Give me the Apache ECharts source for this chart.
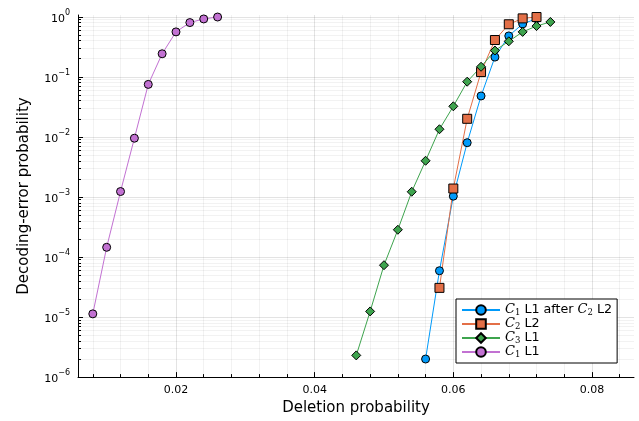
<!DOCTYPE html>
<html>
<head>
<meta charset="utf-8">
<script src="https://cdn.jsdelivr.net/npm/echarts@6/dist/echarts.min.js"></script>
<style>
  html, body { margin: 0; padding: 0; background: #ffffff; }
  #chart { width: 639px; height: 421px; }
</style>
</head>
<body>
<div id="chart"></div>
<script>
// Deletion probabilities and decoding-error probabilities per scheme
const delC1afterC2 = [0.056, 0.058, 0.060, 0.062, 0.064, 0.066, 0.068, 0.070, 0.072];
const errC1afterC2 = [2.0e-6, 5.9e-5, 1.03e-3, 8.0e-3, 0.048, 0.213, 0.48, 0.76, 0.93];

const delC2L2 = [0.058, 0.060, 0.062, 0.064, 0.066, 0.068, 0.070, 0.072];
const errC2L2 = [3.06e-5, 1.38e-3, 0.020, 0.120, 0.41, 0.75, 0.94, 0.99];

const delC3L1 = [0.046, 0.048, 0.050, 0.052, 0.054, 0.056, 0.058, 0.060, 0.062, 0.064, 0.066, 0.068, 0.070, 0.072, 0.074];
const errC3L1 = [2.3e-6, 1.24e-5, 7.3e-5, 2.84e-4, 1.22e-3, 4.0e-3, 0.0134, 0.0323, 0.083, 0.147, 0.274, 0.39, 0.56, 0.70, 0.82];

const delC1L1 = [0.008, 0.010, 0.012, 0.014, 0.016, 0.018, 0.020, 0.022, 0.024, 0.026];
const errC1L1 = [1.13e-5, 1.45e-4, 1.23e-3, 9.5e-3, 0.0748, 0.242, 0.56, 0.80, 0.92, 0.99];

// Axis ticks
const xMajorTicks = [0.02, 0.04, 0.06, 0.08];
const xMinorTicks = [0.008, 0.012, 0.016, 0.024, 0.028, 0.032, 0.036, 0.044, 0.048, 0.052, 0.056, 0.064, 0.068, 0.072, 0.076, 0.084];
const yDecades = [-6, -5, -4, -3, -2, -1, 0];
const yMinorMultipliers = [2, 3, 4, 5, 6, 7, 8, 9];

const seriesNames = ['C1 L1 after C2 L2', 'C2 L2', 'C3 L1', 'C1 L1'];
const legendRich = {
  'C1 L1 after C2 L2': '{c|C}{s|1} L1 after {c|C}{s|2} L2',
  'C2 L2': '{c|C}{s|2} L2',
  'C3 L1': '{c|C}{s|3} L1',
  'C1 L1': '{c|C}{s|1} L1'
};

const yMajorTicks = yDecades.map(e => Math.pow(10, e));
const yMinorTicks = [];
yDecades.slice(0, -1).forEach(e => yMinorMultipliers.forEach(k => yMinorTicks.push(k * Math.pow(10, e))));

const FONT = 'DejaVu Sans';
const X_MIN = 0.005865, X_MAX = 0.08606;
const Y_MIN = 1e-6, Y_MAX = 1.07;

function pairs(xs, ys) { return xs.map((x, i) => [x, ys[i]]); }

function expLabel(v) {
  const e = Math.round(Math.log10(v));
  return '{b|10}{p|' + (e < 0 ? '\u2212' + Math.abs(e) : String(e)) + '}';
}

const chart = echarts.init(document.getElementById('chart'), null, { renderer: 'canvas' });

const baseSeries = (name, xs, ys, color, symbol, size) => ({
  name: name,
  type: 'line',
  xAxisIndex: 0,
  yAxisIndex: 0,
  data: pairs(xs, ys),
  symbol: symbol,
  symbolSize: size,
  showAllSymbol: true,
  lineStyle: { color: color, width: 1 },
  itemStyle: { color: color, borderColor: '#000000', borderWidth: 1 },
  emphasis: { disabled: true },
  animation: false
});

chart.setOption({
  backgroundColor: '#ffffff',
  animation: false,
  grid: { left: 78, right: 5, top: 15, bottom: 42, containLabel: false },
  xAxis: [
    {
      type: 'value', min: X_MIN, max: X_MAX, position: 'bottom',
      name: 'Deletion probability', nameLocation: 'middle', nameGap: 22,
      nameTextStyle: { fontFamily: FONT, fontSize: 15, color: '#000' },
      axisLine: { show: true, onZero: false, lineStyle: { color: '#000', width: 1 } },
      axisTick: { show: true, inside: true, length: 5, customValues: xMajorTicks, lineStyle: { color: '#000' } },
      axisLabel: { show: true, customValues: xMajorTicks, margin: 8, fontFamily: FONT, fontSize: 11, color: '#000',
                   formatter: v => v.toFixed(2) },
      splitLine: { show: true, lineStyle: { color: 'rgba(0,0,0,0.11)', width: 1 } }
    },
    {
      type: 'value', min: X_MIN, max: X_MAX, position: 'bottom',
      axisLine: { show: false },
      axisTick: { show: true, inside: true, length: 3, customValues: xMinorTicks, lineStyle: { color: '#000' } },
      axisLabel: { show: false },
      splitLine: { show: true, lineStyle: { color: 'rgba(0,0,0,0.05)', width: 1 } }
    }
  ],
  yAxis: [
    {
      type: 'log', logBase: 10, min: Y_MIN, max: Y_MAX, position: 'left',
      name: 'Decoding-error probability', nameLocation: 'middle', nameGap: 46,
      nameTextStyle: { fontFamily: FONT, fontSize: 15, color: '#000' },
      axisLine: { show: true, onZero: false, lineStyle: { color: '#000', width: 1 } },
      axisTick: { show: true, inside: true, length: 5, customValues: yMajorTicks, lineStyle: { color: '#000' } },
      axisLabel: {
        show: true, customValues: yMajorTicks, margin: 8, color: '#000',
        formatter: expLabel,
        rich: {
          b: { fontFamily: FONT, fontSize: 11, color: '#000', verticalAlign: 'bottom', lineHeight: 16 },
          p: { fontFamily: FONT, fontSize: 8, color: '#000', verticalAlign: 'top', lineHeight: 16 }
        }
      },
      splitLine: { show: true, lineStyle: { color: 'rgba(0,0,0,0.11)', width: 1 } }
    },
    {
      type: 'log', logBase: 10, min: Y_MIN, max: Y_MAX, position: 'left',
      axisLine: { show: false },
      axisTick: { show: true, inside: true, length: 3, customValues: yMinorTicks, lineStyle: { color: '#000' } },
      axisLabel: { show: false },
      splitLine: { show: true, lineStyle: { color: 'rgba(0,0,0,0.05)', width: 1 } }
    }
  ],
  legend: {
    show: true,
    data: seriesNames,
    orient: 'vertical',
    left: 456, top: 299,
    padding: [4, 5, 4, 5],
    itemWidth: 38, itemHeight: 12, itemGap: 0,
    backgroundColor: '#ffffff',
    borderColor: '#000000', borderWidth: 1, borderRadius: 0,
    selectedMode: false,
    formatter: name => legendRich[name],
    textStyle: {
      fontFamily: FONT, fontSize: 12.7, color: '#000', lineHeight: 14,
      rich: {
        c: { fontFamily: 'DejaVu Serif', fontStyle: 'italic', fontSize: 13, color: '#000', lineHeight: 14 },
        s: { fontFamily: 'DejaVu Serif', fontSize: 8.5, color: '#000', verticalAlign: 'bottom', lineHeight: 14 }
      }
    }
  },
  series: [
    baseSeries(seriesNames[0], delC1afterC2, errC1afterC2, '#009AFA', 'circle', 8),
    baseSeries(seriesNames[1], delC2L2, errC2L2, '#E36F47', 'rect', 9),
    baseSeries(seriesNames[2], delC3L1, errC3L1, '#3EA44E', 'diamond', 9),
    baseSeries(seriesNames[3], delC1L1, errC1L1, '#C271D2', 'circle', 8)
  ]
});
</script>
</body>
</html>
